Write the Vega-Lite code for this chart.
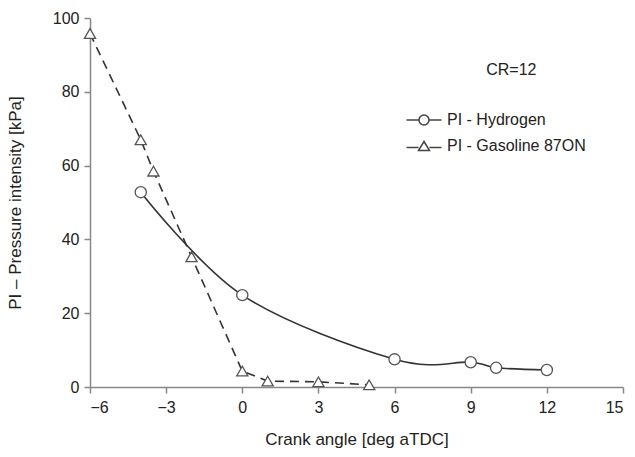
{
  "$schema": "https://vega.github.io/schema/vega-lite/v6.json",
  "width": 533,
  "height": 369,
  "autosize": {"type": "none"},
  "padding": {"left": 90, "top": 18, "right": 12, "bottom": 70},
  "background": "white",
  "config": {
    "view": {"stroke": null},
    "font": "Liberation Sans",
    "axis": {
      "grid": false,
      "domainColor": "#888888",
      "domainWidth": 1.5,
      "tickColor": "#888888",
      "tickWidth": 1.5,
      "tickSize": 6,
      "labelFont": "Liberation Sans",
      "labelFontSize": 16,
      "labelColor": "#222222",
      "titleFont": "Liberation Sans",
      "titleFontSize": 17,
      "titleFontWeight": "normal",
      "titleColor": "#222222"
    }
  },
  "datasets": {
    "series": [
      {"angle": -4, "pi": 52.8, "series": "PI - Hydrogen"},
      {"angle": 0, "pi": 24.9, "series": "PI - Hydrogen"},
      {"angle": 6, "pi": 7.5, "series": "PI - Hydrogen"},
      {"angle": 9, "pi": 6.7, "series": "PI - Hydrogen"},
      {"angle": 10, "pi": 5.2, "series": "PI - Hydrogen"},
      {"angle": 12, "pi": 4.6, "series": "PI - Hydrogen"},
      {"angle": -6, "pi": 95.8, "series": "PI - Gasoline 87ON"},
      {"angle": -4, "pi": 67, "series": "PI - Gasoline 87ON"},
      {"angle": -3.5, "pi": 58.5, "series": "PI - Gasoline 87ON"},
      {"angle": -2, "pi": 35.3, "series": "PI - Gasoline 87ON"},
      {"angle": 0, "pi": 4.3, "series": "PI - Gasoline 87ON"},
      {"angle": 1, "pi": 1.6, "series": "PI - Gasoline 87ON"},
      {"angle": 3, "pi": 1.4, "series": "PI - Gasoline 87ON"},
      {"angle": 5, "pi": 0.6, "series": "PI - Gasoline 87ON"}
    ],
    "note": [{"angle": 10.6, "pi": 86, "label": "CR=12"}]
  },
  "layer": [
    {
      "data": {"name": "series"},
      "transform": [{"filter": "datum.series === 'PI - Hydrogen'"}],
      "mark": {"type": "line", "interpolate": "cardinal", "color": "#333333", "strokeWidth": 1.6},
      "encoding": {
        "x": {"field": "angle", "type": "quantitative", "scale": {"domain": [-6, 15], "nice": false}, "axis": {"values": [-6, -3, 0, 3, 6, 9, 12, 15], "title": "Crank angle [deg aTDC]", "titlePadding": 16, "labelPadding": 6}},
        "y": {"field": "pi", "type": "quantitative", "scale": {"domain": [0, 100], "nice": false}, "axis": {"values": [0, 20, 40, 60, 80, 100], "title": "PI – Pressure intensity [kPa]", "titlePadding": 28, "labelPadding": 5}}
      }
    },
    {
      "data": {"name": "series"},
      "transform": [{"filter": "datum.series === 'PI - Gasoline 87ON'"}],
      "mark": {"type": "line", "interpolate": "linear", "color": "#333333", "strokeWidth": 1.6, "strokeDash": [9, 6]},
      "encoding": {
        "x": {"field": "angle", "type": "quantitative"},
        "y": {"field": "pi", "type": "quantitative"}
      }
    },
    {
      "data": {"name": "series"},
      "transform": [{"filter": "datum.series === 'PI - Hydrogen'"}],
      "mark": {"type": "point", "shape": "circle", "filled": true, "fill": "white", "stroke": "#555555", "strokeWidth": 1.3, "size": 125, "opacity": 1},
      "encoding": {
        "x": {"field": "angle", "type": "quantitative"},
        "y": {"field": "pi", "type": "quantitative"}
      }
    },
    {
      "data": {"name": "series"},
      "transform": [{"filter": "datum.series === 'PI - Gasoline 87ON'"}],
      "mark": {"type": "point", "shape": "triangle-up", "filled": true, "fill": "white", "stroke": "#555555", "strokeWidth": 1.3, "size": 125, "opacity": 1},
      "encoding": {
        "x": {"field": "angle", "type": "quantitative"},
        "y": {"field": "pi", "type": "quantitative"}
      }
    },
    {
      "data": {"name": "series"},
      "mark": {"type": "point", "filled": true, "fill": "white", "stroke": "#444444", "size": 400, "opacity": 0},
      "encoding": {
        "x": {"field": "angle", "type": "quantitative"},
        "y": {"field": "pi", "type": "quantitative"},
        "shape": {
          "field": "series",
          "type": "nominal",
          "scale": {
            "domain": ["PI - Hydrogen", "PI - Gasoline 87ON"],
            "range": [
              "M -1.75 0 L -0.5 0 M 0.5 0 L 1.75 0 M 0.5 0 A 0.5 0.5 0 1 1 -0.5 0 A 0.5 0.5 0 1 1 0.5 0 Z",
              "M -1.75 0.15 L -0.55 0.15 M 0.55 0.15 L 1.75 0.15 M 0 -0.45 L 0.55 0.45 L -0.55 0.45 Z"
            ]
          },
          "legend": {
            "title": null,
            "orient": "none",
            "legendX": 323,
            "legendY": 91,
            "symbolSize": 400,
            "labelFont": "Liberation Sans",
            "labelFontSize": 16,
            "labelColor": "#222222",
            "labelOffset": 12,
            "rowPadding": 7,
            "encode": {
              "symbols": {
                "update": {
                  "fill": {"value": "white"},
                  "stroke": {"value": "#444444"},
                  "strokeWidth": {"value": 1.3},
                  "opacity": {"value": 1}
                }
              }
            }
          }
        }
      }
    },
    {
      "data": {"name": "note"},
      "mark": {"type": "text", "font": "Liberation Sans", "fontSize": 16, "color": "#222222", "align": "center", "baseline": "middle"},
      "encoding": {
        "x": {"field": "angle", "type": "quantitative"},
        "y": {"field": "pi", "type": "quantitative"},
        "text": {"field": "label"}
      }
    }
  ]
}
